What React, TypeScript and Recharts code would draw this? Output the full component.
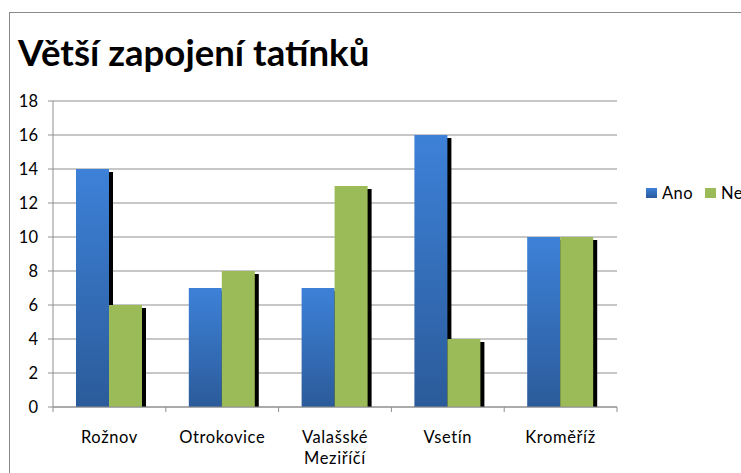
import React from 'react';
import { BarChart, Bar, XAxis, YAxis, CartesianGrid, Legend } from 'recharts';

const categories = ['Rožnov', 'Otrokovice', 'Valašské Meziříčí', 'Vsetín', 'Kroměříž'];
const anoValues = [14, 7, 7, 16, 10];
const neValues = [6, 8, 13, 4, 10];
const yTicks = [0, 2, 4, 6, 8, 10, 12, 14, 16, 18];
const seriesNames = ['Ano', 'Ne'];
const titleText = 'Větší zapojení tatínků';

const data = categories.map((c, i) => ({ name: c, Ano: anoValues[i], Ne: neValues[i] }));

const FONT = 'Lato, "Open Sans", sans-serif';
const GRID = '#8f8f8f';
const TICK_FS = 16.5;

const ShadowBar = (props: any) => {
  const { x, y, width, height, fill } = props;
  if (!height || height <= 0) return null;
  return (
    <g>
      <rect x={x + 4} y={y + 3} width={width} height={Math.max(0, height - 3)} fill="#000" />
      <rect x={x} y={y} width={width} height={height} fill={fill} />
    </g>
  );
};

const XTick = (props: any) => {
  const { x, y, payload, index, visibleTicksCount } = props;
  const off = payload && payload.offset ? payload.offset : 56.4;
  const words = String(payload.value).split(' ');
  const last = index === (visibleTicksCount || categories.length) - 1;
  return (
    <g>
      <line x1={x - off} x2={x - off} y1={y} y2={y + 5} stroke={GRID} />
      {last && <line x1={x + off} x2={x + off} y1={y} y2={y + 5} stroke={GRID} />}
      <text x={x} y={y + 36} textAnchor="middle" fontFamily={FONT} fontSize={TICK_FS} letterSpacing={0.6} fill="#000">
        {words.map((w: string, i: number) => (
          <tspan key={i} x={x} dy={i === 0 ? 0 : 21}>{w}</tspan>
        ))}
      </text>
    </g>
  );
};

const LegendContent = () => {
  const fills = ['url(#blueGrad)', '#9bbb59'];
  return (
    <svg width={120} height={20} style={{ overflow: 'visible' }}>
      {seriesNames.map((n, i) => (
        <g key={n} transform={`translate(${i * 59},0)`}>
          <rect x={0} y={4} width={11} height={10} fill={fills[i]} />
          <text x={16} y={15} fontFamily={FONT} fontSize={TICK_FS} letterSpacing={0.4} fill="#000">{n}</text>
        </g>
      ))}
    </svg>
  );
};

export default function App() {
  return (
    <div style={{ position: 'absolute', left: 0, top: 0, width: 741, height: 473, overflow: 'hidden', background: '#fff' }}>
      <div style={{ position: 'absolute', left: 9, top: 12, width: 900, height: 600, border: '1px solid #8a8a8a' }} />
      <div style={{ position: 'absolute', left: 18, top: 34, fontFamily: FONT, fontWeight: 700, fontSize: 36.6, lineHeight: '36px', color: '#000', whiteSpace: 'nowrap' }}>
        {titleText}
      </div>
      <div style={{ position: 'absolute', left: 0, top: 0 }}>
        <BarChart width={741} height={473} data={data} margin={{ top: 101, right: 4, bottom: 16, left: 0 }} barCategoryGap={23} barGap={0}>
          <defs>
            <linearGradient id="blueGrad" x1="0" y1="0" x2="0" y2="1">
              <stop offset="0%" stopColor="#3d81d8" />
              <stop offset="100%" stopColor="#2b5b9a" />
            </linearGradient>
          </defs>
          <CartesianGrid vertical={false} stroke={GRID} />
          <XAxis dataKey="name" stroke={GRID} tickLine={false} tickSize={0} tickMargin={0} height={50} interval={0} tick={<XTick />} />
          <YAxis domain={[0, 18]} ticks={yTicks} width={53} stroke={GRID} tickSize={5} tickMargin={10} interval={0}
            tick={{ fill: '#000', fontSize: TICK_FS, fontFamily: FONT }} />
          <Legend layout="horizontal" align="right" verticalAlign="middle" content={<LegendContent />}
            wrapperStyle={{ left: 646, top: 184, width: 120, height: 20 }} />
          <Bar dataKey="Ano" fill="url(#blueGrad)" shape={<ShadowBar />} isAnimationActive={false} />
          <Bar dataKey="Ne" fill="#9bbb59" shape={<ShadowBar />} isAnimationActive={false} />
        </BarChart>
      </div>
    </div>
  );
}
